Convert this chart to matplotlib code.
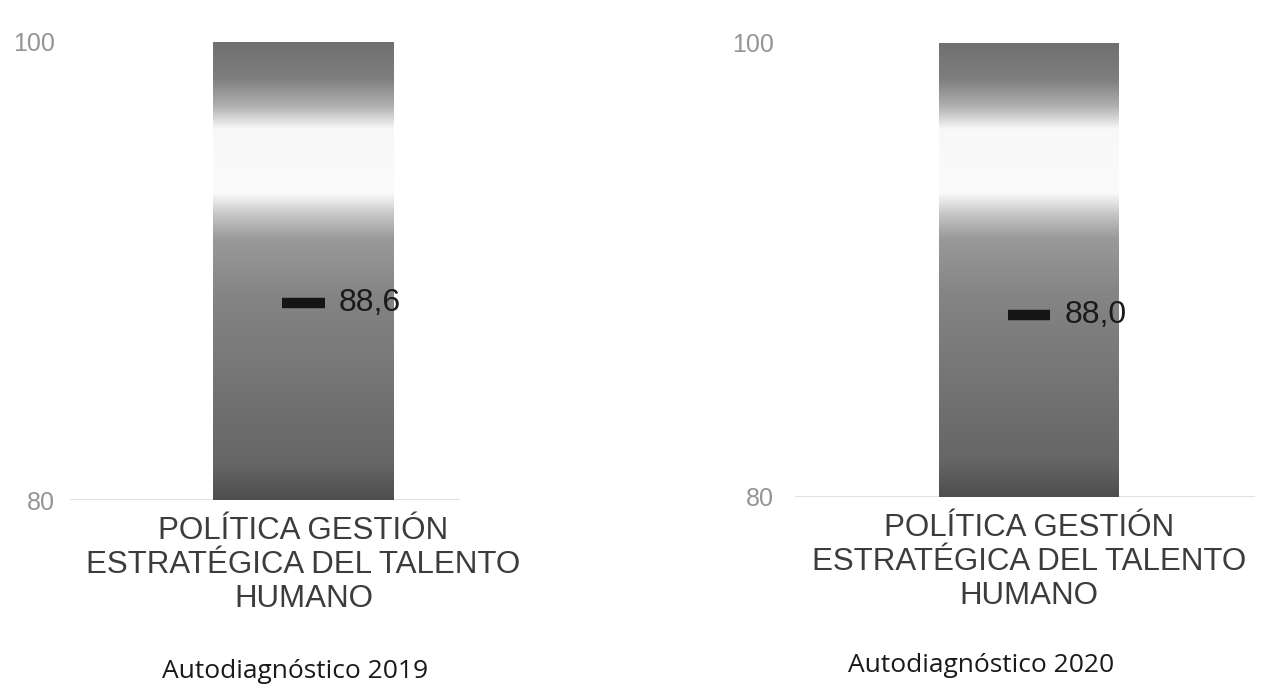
import numpy as np
import matplotlib
matplotlib.use("Agg")
import matplotlib.pyplot as plt
from matplotlib.colors import LinearSegmentedColormap

# data
years = ["Autodiagnóstico 2019", "Autodiagnóstico 2020"]
category = "POLÍTICA GESTIÓN\nESTRATÉGICA DEL TALENTO\nHUMANO"
range_min = [80, 80]
range_max = [100, 100]
scores = [88.6, 88.0]
score_labels = ["88,6", "88,0"]

# grey -> white -> dark grey, top to bottom of the bar
shade = LinearSegmentedColormap.from_list(
    "shade",
    [(0.0, "#707070"), (0.08, "#7e7e7e"), (0.14, "#b0b0b0"), (0.19, "#f8f8f8"),
     (0.33, "#fbfbfb"), (0.38, "#c4c4c4"), (0.43, "#9a9a9a"), (0.55, "#858585"),
     (0.75, "#747474"), (0.92, "#666666"), (1.0, "#4e4e4e")])

fig = plt.figure(figsize=(12.78, 6.85), dpi=100)
axes_pos = [[0.0548, 0.270, 0.305, 0.669], [0.622, 0.2745, 0.36, 0.663]]
xlims = [(-0.599, 0.401), (-0.509, 0.491)]
bar_w = [0.464, 0.391]
mark_half = [0.054, 0.046]
year_x = [-0.022, -0.104]
year_y = [-0.346, -0.343]

for i in range(2):
    ax = fig.add_axes(axes_pos[i])
    ax.set_xlim(*xlims[i])
    ax.set_ylim(range_min[i], range_max[i])
    bars = ax.bar(0, range_max[i] - range_min[i], bottom=range_min[i],
                  width=bar_w[i], color="none", edgecolor="none", zorder=2)
    grad = np.linspace(0, 1, 256).reshape(-1, 1)
    im = ax.imshow(grad, cmap=shade, aspect="auto", zorder=2,
                   extent=(-bar_w[i] / 2, bar_w[i] / 2, range_min[i], range_max[i]),
                   origin="upper")
    im.set_clip_path(bars[0])
    ax.set_xlim(*xlims[i])
    ax.set_ylim(range_min[i], range_max[i])

    ax.hlines(scores[i], -mark_half[i], mark_half[i], color="#151515", lw=7.5, zorder=3)
    ax.annotate(score_labels[i], (mark_half[i], scores[i]), xytext=(10, 0),
                textcoords="offset points", va="center", ha="left",
                fontsize=23, color="#1a1a1a", family="Liberation Sans", zorder=4)

    ax.axhline(range_min[i], color="#dcdcdc", lw=1.2, zorder=1)
    ax.set_yticks([range_min[i], range_max[i]])
    ax.set_yticklabels([str(range_min[i]), str(range_max[i])],
                       color="#959595", fontsize=18, family="Liberation Sans")
    ax.tick_params(axis="y", length=0, pad=11 if i == 0 else 15)
    ax.set_xticks([])
    for s in ax.spines.values():
        s.set_visible(False)

    ax.text(0, -0.035, category, transform=ax.get_xaxis_transform(),
            ha="center", va="top", fontsize=22.5, color="#3c3c3c",
            family="Liberation Sans", linespacing=1.17)
    ax.text(year_x[i], year_y[i], years[i], transform=ax.get_xaxis_transform(),
            ha="center", va="top", fontsize=19, color="#1a1a1a", family="Open Sans")

fig.savefig("out.png", dpi=100, facecolor="white")
